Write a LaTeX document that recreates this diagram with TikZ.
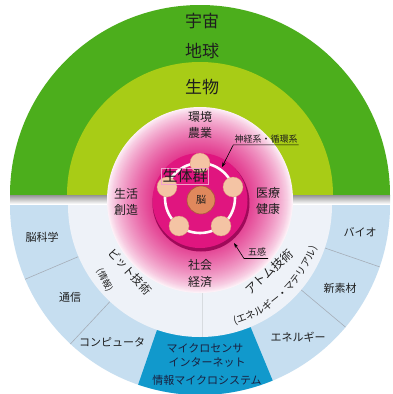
\documentclass[tikz,border=0pt]{standalone}
\usepackage{fontspec}
\setmainfont{Noto Sans CJK JP}
\usetikzlibrary{arrows.meta,decorations.text}
\definecolor{gOut}{HTML}{4CAE1C}
\definecolor{gIn}{HTML}{A8CC16}
\definecolor{bRing}{HTML}{C6DEF0}
\definecolor{bDark}{HTML}{1199CC}
\definecolor{pale}{HTML}{EEF2F8}
\definecolor{mag}{HTML}{E0157F}
\definecolor{magDark}{HTML}{A00A5A}
\definecolor{peach}{HTML}{F4C4A4}
\definecolor{peachDark}{HTML}{D89A7A}
\definecolor{brainC}{HTML}{E0885C}
\definecolor{brainD}{HTML}{A85A38}
\definecolor{txt}{HTML}{1E1E1E}
\definecolor{navy}{HTML}{1A2040}
\definecolor{divC}{HTML}{A6AEB8}
\definecolor{pkB}{HTML}{E33C90}
\tikzset{
  bigtxt/.style={font=\fontsize{17}{17}\selectfont, text=txt},
  midtxt/.style={font=\fontsize{12}{16.5}\selectfont, text=txt, align=center},
  ringtxt/.style={font=\fontsize{11}{13}\selectfont, text=txt},
  bluetxt/.style={font=\fontsize{11}{13}\selectfont, text=navy},
  smalltxt/.style={font=\fontsize{9}{10}\selectfont, text=txt, inner sep=1pt},
  divider/.style={draw=divC, line width=0.6pt},
  pointer/.style={draw=black, line width=0.6pt, -{Stealth[length=5pt,width=3.5pt]}},
  peachdot/.style={circle, fill=peach, draw=peachDark, line width=0.3pt, minimum size=20pt, inner sep=0pt}
}
\begin{document}
\begin{tikzpicture}[x=1pt,y=-1pt]
\useasboundingbox (0,0) rectangle (392,394);
\fill[white] (0,0) rectangle (392,394);
% lower half
\fill[bRing] (10,205) arc[start angle=180, end angle=0, radius=190] -- cycle;
\fill[bDark] (200,205) -- ++(67.5:190) arc[start angle=67.5, end angle=109, radius=190] -- cycle;
\draw[divider] (200,205) ++(19:132) -- ++(19:58);
\draw[divider] (200,205) ++(40:132) -- ++(40:58);
\draw[divider] (200,205) ++(133:132) -- ++(133:58);
\draw[divider] (200,205) ++(157:132) -- ++(157:58);
\fill[pale] (68,205) arc[start angle=180, end angle=0, radius=132] -- cycle;
\draw[draw=divC!45, line width=0.5pt] (202,290) -- (202,337);
% upper half
\fill[gOut] (10,195) arc[start angle=180, end angle=360, radius=190] -- cycle;
\fill[gIn] (67,195) arc[start angle=180, end angle=360, radius=133] -- cycle;
\shade[top color=black!42, bottom color=white] (10,195) rectangle (390,204);
% glow
\foreach \r in {93,92,...,48} {
  \pgfmathsetmacro\p{100*(1-(\r-48)/46)^0.7}
  \fill[pkB!\p!white] (200,200) circle[radius=\r];
}
% magenta disk
\fill[magDark] (201,203) circle[radius=48.5];
\fill[mag] (200,200.5) circle[radius=47.5];
\draw[white!92!pink, line width=2.6pt] (200,198) circle[radius=35];
\node[peachdot] (p1) at (200,163) {};
\node[peachdot] (p2) at (233,187) {};
\node[peachdot] (p3) at (221,226) {};
\node[peachdot] (p4) at (179,226) {};
\node[peachdot] (p5) at (167,187) {};
\node[circle, fill=brainC, draw=brainD, line width=0.6pt, minimum size=28pt, inner sep=0pt, font=\fontsize{10}{10}\selectfont, text=txt] (brain) at (201,200) {脳};
\node[font=\fontsize{15}{15}\selectfont, text=txt, draw=white!60!mag, line width=0.3pt, inner sep=1pt, minimum width=45pt] (seitai) at (185,176) {生体群};
% green labels
\node[bigtxt] (uchu) at (202,21) {宇宙};
\node[bigtxt] (chikyu) at (202,51) {地球};
\node[bigtxt] (seibutsu) at (202,87) {生物};
% inner labels
\node[midtxt] (kankyo) at (200,125) {環境\\農業};
\node[midtxt] (seikatsu) at (126,202) {生活\\創造};
\node[midtxt] (iryo) at (268,201) {医療\\健康};
\node[midtxt] (shakai) at (200,273.5) {社会\\経済};
% pointers
\node[smalltxt] (shinkei) at (266,139.5) {神経系・循環系};
\coordinate (shinkeiTip) at (222,167);
\draw[pointer] (shinkei.south east) -- (shinkei.south west) -- (shinkeiTip);
\node[smalltxt] (gokan) at (257,251.5) {五感};
\coordinate (gokanR) at (268,258.5);
\coordinate (gokanL) at (244,258.5);
\coordinate (gokanTip) at (234,243);
\draw[pointer] (gokanR) -- (gokanL) -- (gokanTip);
% technology labels
\node[font=\fontsize{11.5}{12}\selectfont, text=txt, rotate=-47.5] (bit) at (130,271.5) {ビット技術};
\node[font=\fontsize{9}{10}\selectfont, text=txt, rotate=-62.5] (joho) at (104.5,280) {(情報)};
\node[font=\fontsize{12}{13}\selectfont, text=txt, rotate=43] (atom) at (269,272) {アトム技術};
\path[decorate, decoration={text along path, text align=center,
  text={|\fontsize{10}{12}\selectfont\color{txt}|(エネルギー・マテリアル)}}]
  ([shift={(200,205)}]77:124.5) arc[start angle=77, end angle=17, radius=124.5];
% ring labels
\node[ringtxt] (nouka) at (42,237) {脳科学};
\node[ringtxt] (tsushin) at (70,297) {通信};
\node[ringtxt] (compu) at (112,342) {コンピュータ};
\node[ringtxt] (energy) at (298,337) {エネルギー};
\node[ringtxt] (shinso) at (340,288) {新素材};
\node[ringtxt] (bio) at (360,232) {バイオ};
\node[bluetxt] (micro1) at (205,348) {マイクロセンサ};
\node[bluetxt] (micro2) at (207,362.5) {インターネット};
\node[bluetxt] (micro3) at (207,380) {情報マイクロシステム};
\end{tikzpicture}
\end{document}
